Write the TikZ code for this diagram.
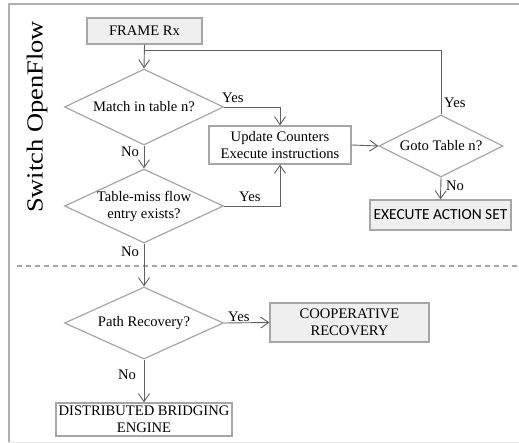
\documentclass[tikz,border=0pt]{standalone}
\usepackage{fontspec}
\setmainfont{Liberation Serif}
\newfontfamily\calib{Carlito}
\usetikzlibrary{shapes.geometric,arrows.meta}
\definecolor{bord}{HTML}{A6A6A6}
\definecolor{connc}{HTML}{606060}
\definecolor{boxfill}{HTML}{EFEFEF}
\definecolor{framec}{HTML}{B0B0B0}
\begin{document}
\begin{tikzpicture}[x=1pt,y=-1pt,
  txt/.style={font=\fontsize{14.6}{17}\selectfont},
  boxnode/.style={draw=bord, line width=1.2pt, inner sep=0pt, align=center, txt},
  dia/.style={draw=bord, line width=1.2pt, shape=diamond, inner sep=0pt, fill=white},
  dtext/.style={txt, align=center, inner sep=0pt},
  connline/.style={draw=connc, line width=0.9pt},
  conn/.style={connline, -{Straight Barb[length=8pt,width=11pt]}},
  lab/.style={txt, inner sep=0pt, anchor=base west}]
\useasboundingbox (0,0) rectangle (519,443);
% frame
\draw[framec, line width=1.3pt] (9,442) -- (9,4) -- (519,4);
\draw[black!10, line width=1pt] (9,442) -- (519,442);
% separator
\draw[bord, line width=1.2pt, dash pattern=on 5pt off 4pt] (17,266) -- (517,266);
% side label
\node[rotate=90, inner sep=0pt] (sw) at (37,117) {\scalebox{1.15}[1]{\fontsize{23}{23}\selectfont Switch OpenFlow}};
% boxes
\node[boxnode, fill=boxfill, minimum width=115pt, minimum height=26pt] (frame) at (144.5,31) {FRAME Rx};
\node[boxnode, fill=white, minimum width=142pt, minimum height=38pt] (upd) at (280,145) {Update Counters\\Execute instructions};
\node[boxnode, fill=boxfill, minimum width=141pt, minimum height=30pt, font=\calib\fontsize{15.4}{17}\selectfont] (exec) at (440.5,215) {EXECUTE ACTION SET};
\node[boxnode, fill=boxfill, minimum width=159pt, minimum height=39pt] (coop) at (349.5,322.5) {COOPERATIVE\\RECOVERY};
\node[boxnode, fill=white, minimum width=176pt, minimum height=33pt] (dist) at (144,419.5) {DISTRIBUTED BRIDGING\\ENGINE};
% diamonds
\node[dia, minimum width=159pt, minimum height=76pt] (d1) at (144,107) {};
\node[dtext] (d1t) at (d1.center) {Match in table n?};
\node[dia, minimum width=159pt, minimum height=74pt] (d2) at (144,206) {};
\node[dtext] (d2t) at (d2.center) {Table-miss flow\\entry exists?};
\node[dia, minimum width=159pt, minimum height=72pt] (d3) at (144,323) {};
\node[dtext] (d3t) at (d3.center) {Path Recovery?};
\node[dia, minimum width=124pt, minimum height=62pt] (goto) at (441,146) {};
\node[dtext] (gotot) at (goto.center) {Goto Table n?};
% connectors
\coordinate (j) at (144,50);
\draw[conn] (frame.south) -- (d1.north);
\draw[connline] (goto.north) |- (j);
\draw[conn] (d1.east) -| (upd.north);
\draw[conn] (d1.south) -- (d2.north);
\draw[conn] (d2.east) -| (upd.south);
\draw[conn] (upd.east) -- (goto.west);
\draw[conn] (goto.south) -- (exec.north);
\draw[conn] (d2.south) -- (d3.north);
\draw[conn] (d3.east) -- (coop.west);
\draw[conn] (d3.south) -- (dist.north);
% labels
\node[lab] (l1) at (222,103) {Yes};
\node[lab] (l2) at (444,108) {Yes};
\node[lab] (l3) at (446,191) {No};
\node[lab] (l4) at (239,202) {Yes};
\node[lab] (l5) at (121,157) {No};
\node[lab] (l6) at (121,257) {No};
\node[lab] (l7) at (228,322) {Yes};
\node[lab] (l8) at (118,379) {No};
\end{tikzpicture}
\end{document}
